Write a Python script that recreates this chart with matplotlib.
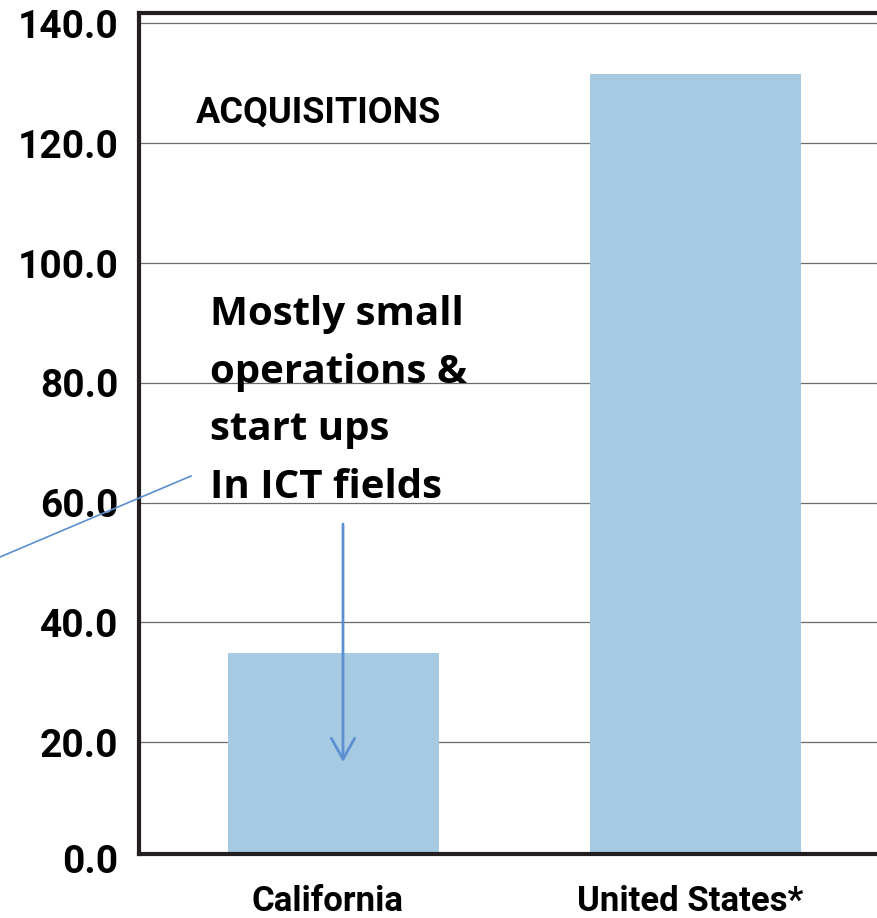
import matplotlib
matplotlib.use("Agg")
import matplotlib.pyplot as plt
import matplotlib.transforms as mtransforms
from matplotlib.lines import Line2D

plt.rcParams['font.family'] = ['Roboto', 'DejaVu Sans']

categories = ["California", "United States*"]
values = [34.9, 131.6]
ytick_values = [20, 40, 60, 80, 100, 120, 140]
ytick_labels = ["20.0", "40.0", "60.0", "80.0", "100.0", "120.0", "140.0"]
zero_label = "0.0"
panel_title = "ACQUISITIONS"
note_text = "Mostly small\noperations &\nstart ups\nIn ICT fields"

W, H = 877, 918
fig = plt.figure(figsize=(W / 100, H / 100), dpi=100)
ax = fig.add_axes([139 / W, 64 / H, 1 - 139 / W, 841.3 / H])

bar_color = "#a7cae3"
blue = "#5b8fcf"
dark = "#231f20"

x = list(range(len(categories)))
ax.bar(x, values, width=0.5816, color=bar_color, zorder=2)

ax.set_xlim(-0.535, 1.499)
ax.set_ylim(1.35, 141.8)

ax.set_yticks(ytick_values)
ax.set_yticklabels(ytick_labels)
ax.set_xticks(x)
ax.set_xticklabels(categories)

ax.tick_params(axis='y', length=0, pad=15, labelsize=28, labelcolor='black')
ax.tick_params(axis='x', length=0, pad=22.5, labelsize=25, labelcolor='black')
for lab in ax.get_yticklabels() + ax.get_xticklabels():
    lab.set_fontweight('bold')
shift = mtransforms.ScaledTranslation(-6 / 100, 0, fig.dpi_scale_trans)
for lab in ax.get_xticklabels():
    lab.set_transform(lab.get_transform() + shift)

ax.grid(axis='y', color='#6a6a6a', linewidth=0.9, zorder=1)
ax.set_axisbelow(True)

for side in ['left', 'top', 'bottom']:
    ax.spines[side].set_linewidth(3.0)
    ax.spines[side].set_color(dark)
    ax.spines[side].set_zorder(3)
ax.spines['right'].set_visible(False)

# zero label (below the visible axis floor)
trans = mtransforms.blended_transform_factory(ax.transAxes, ax.transData)
ax.text(-21 / (W - 139), 0, zero_label, transform=trans, ha='right', va='center',
        fontsize=28, fontweight='bold', clip_on=False)

fig.text(196 / W, 1 - 113 / H, panel_title, fontsize=26, fontweight='bold',
         ha='left', va='center', color='black')

fig.text(210 / W, 1 - 295 / H, note_text, fontsize=29, fontweight='bold',
         ha='left', va='top', color='black', linespacing=1.62,
         family=['Open Sans', 'DejaVu Sans'])

# connector line from the left
fig.add_artist(Line2D([0, 191 / W], [1 - 557 / H, 1 - 476 / H],
                      transform=fig.transFigure, color=blue, linewidth=1.2))

# downward arrow
ax.annotate("", xy=(343 / W, 1 - 762 / H), xytext=(343 / W, 1 - 524 / H),
            xycoords=fig.transFigure, textcoords=fig.transFigure,
            arrowprops=dict(arrowstyle="->,head_length=0.75,head_width=0.42",
                            mutation_scale=20, color=blue, linewidth=2.0,
                            shrinkA=0, shrinkB=0))

fig.savefig("out.png", dpi=100)
